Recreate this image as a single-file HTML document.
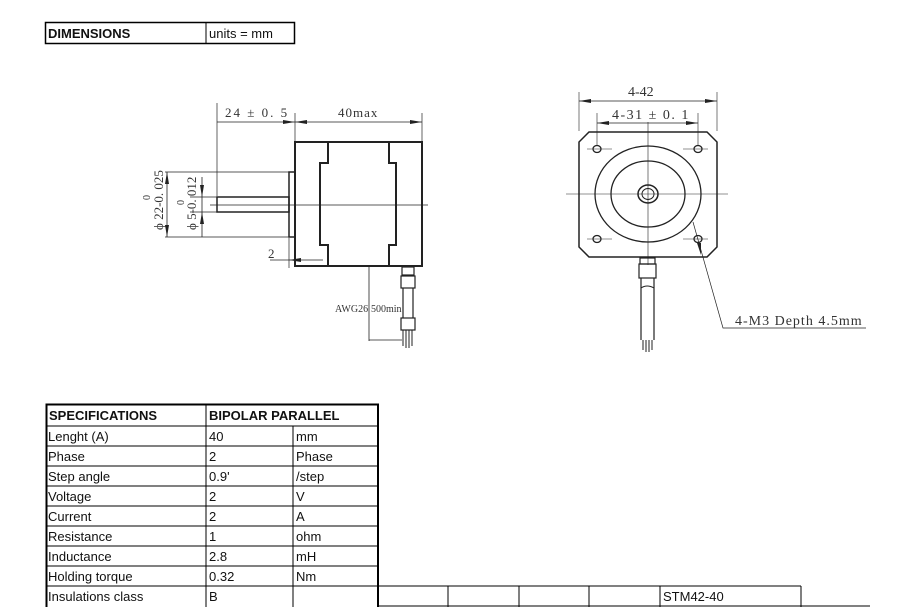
<!DOCTYPE html>
<html><head><meta charset="utf-8"><style>
body{margin:0;background:#fff;width:900px;height:607px;overflow:hidden;position:relative;font-family:"Liberation Sans",sans-serif}
svg{position:absolute;left:0;top:0}
.t{font-family:"Liberation Serif",serif;font-size:13px;fill:#333}
.c{font-family:"Liberation Sans",sans-serif;font-size:13px;fill:#111}
.b{font-weight:bold}
</style></head><body>
<svg width="900" height="607" viewBox="0 0 900 607">
<rect x="45.5" y="22.5" width="249" height="21" fill="none" stroke="#000" stroke-width="1.5"/>
<line x1="206" y1="22" x2="206" y2="44" stroke="#000"/>
<text x="48" y="38" class="c b">DIMENSIONS</text>
<text x="209" y="38" class="c">units = mm</text>

<g stroke="#222" fill="none">
<rect x="295" y="142" width="127" height="124" stroke-width="2"/>
<polyline points="328,142 328,163 320,163 320,245 328,245 328,266" stroke-width="2"/>
<polyline points="389,142 389,163 396,163 396,245 389,245 389,266" stroke-width="2"/>
<rect x="289" y="172" width="6" height="65" stroke-width="1.5"/>
<rect x="217" y="197" width="72" height="15" stroke-width="1.5"/>
<line x1="210" y1="205" x2="428" y2="205" stroke-width="0.7"/>
<line x1="217" y1="103" x2="217" y2="196" stroke-width="0.7"/>
<line x1="295" y1="113" x2="295" y2="141" stroke-width="0.7"/>
<line x1="422" y1="113" x2="422" y2="141" stroke-width="0.7"/>
<line x1="217" y1="122" x2="422" y2="122" stroke-width="0.8"/>
<line x1="165" y1="172" x2="289" y2="172" stroke-width="0.7"/>
<line x1="165" y1="237" x2="289" y2="237" stroke-width="0.7"/>
<line x1="190" y1="197" x2="217" y2="197" stroke-width="0.7"/>
<line x1="190" y1="212" x2="217" y2="212" stroke-width="0.7"/>
<line x1="167" y1="172" x2="167" y2="237" stroke-width="0.8"/>
<line x1="202" y1="177" x2="202" y2="237" stroke-width="0.8"/>
<line x1="289" y1="238" x2="289" y2="268" stroke-width="0.7"/>
<line x1="270" y1="260" x2="323" y2="260" stroke-width="0.8"/>
<line x1="369" y1="266" x2="369" y2="341" stroke-width="0.8"/>
<line x1="369" y1="340" x2="402" y2="340" stroke-width="0.7"/>
<rect x="402" y="267" width="12" height="8" stroke-width="1.2"/>
<rect x="401" y="276" width="14" height="12" stroke-width="1.2"/>
<line x1="403" y1="288" x2="403" y2="318" stroke-width="1.2"/>
<line x1="413" y1="288" x2="413" y2="318" stroke-width="1.2"/>
<rect x="401" y="318" width="14" height="12" stroke-width="1.2"/>
<line x1="403" y1="330" x2="403" y2="346"/><line x1="406" y1="330" x2="406" y2="348"/><line x1="409" y1="330" x2="409" y2="348"/><line x1="412" y1="330" x2="412" y2="346"/>
</g>
<g fill="#222">
<polygon points="295,122 283,120 283,124"/><polygon points="295,122 307,120 307,124"/>
<polygon points="422,122 410,120 410,124"/>
<polygon points="167,172 165,184 169,184"/><polygon points="167,237 165,225 169,225"/>
<polygon points="202,197 200,185 204,185"/><polygon points="202,212 200,224 204,224"/>
<polygon points="289,260 301,258 301,262"/>
</g>
<text x="225" y="117" class="t" letter-spacing="2">24 ± 0. 5</text>
<text x="338" y="117" class="t" letter-spacing="1">40max</text>
<text x="268" y="258" class="t">2</text>
<text x="335" y="312" class="t" style="font-size:10px">AWG26</text>
<text x="371" y="312" class="t" style="font-size:10px">500min</text>
<text transform="translate(163,230) rotate(-90)" class="t">ϕ 22-0. 025</text>
<text transform="translate(150,200) rotate(-90)" class="t" style="font-size:10px">0</text>
<text transform="translate(196,230) rotate(-90)" class="t">ϕ 5-0. 012</text>
<text transform="translate(184,205) rotate(-90)" class="t" style="font-size:10px">0</text>

<g stroke="#222" fill="none">
<polygon points="589,132 707,132 717,142 717,247 707,257 589,257 579,247 579,142" stroke-width="1.5"/>
<ellipse cx="648" cy="194" rx="53" ry="48" stroke-width="1.3"/>
<ellipse cx="648" cy="194" rx="37" ry="33" stroke-width="1.3"/>
<ellipse cx="648" cy="194" rx="10" ry="9" stroke-width="1.5"/>
<ellipse cx="648" cy="194" rx="6" ry="5.5" stroke-width="1"/>
<ellipse cx="597" cy="149" rx="4" ry="3.5" stroke-width="1.3"/>
<ellipse cx="698" cy="149" rx="4" ry="3.5" stroke-width="1.3"/>
<ellipse cx="597" cy="239" rx="4" ry="3.5" stroke-width="1.3"/>
<ellipse cx="698" cy="239" rx="4" ry="3.5" stroke-width="1.3"/>
<g stroke-width="0.6">
<line x1="566" y1="194" x2="728" y2="194"/><line x1="648" y1="122" x2="648" y2="265"/>
<line x1="587" y1="149" x2="612" y2="149"/><line x1="683" y1="149" x2="708" y2="149"/>
<line x1="587" y1="239" x2="612" y2="239"/><line x1="683" y1="239" x2="708" y2="239"/>
<line x1="579" y1="92" x2="579" y2="131"/><line x1="717" y1="92" x2="717" y2="131"/>
<line x1="597" y1="113" x2="597" y2="145"/><line x1="698" y1="113" x2="698" y2="145"/>
</g>
<line x1="579" y1="101" x2="717" y2="101" stroke-width="0.8"/>
<line x1="597" y1="123" x2="698" y2="123" stroke-width="0.8"/>
<polyline points="693,222 723,328 866,328" stroke-width="0.7"/>
<rect x="640" y="258" width="15" height="6" stroke-width="1.2"/>
<rect x="639" y="264" width="17" height="14" stroke-width="1.2"/>
<line x1="641" y1="278" x2="641" y2="340" stroke-width="1.2"/>
<line x1="654" y1="278" x2="654" y2="340" stroke-width="1.2"/>
<path d="M641,288 q6,-4 13,0" stroke-width="1"/>
<line x1="643" y1="340" x2="643" y2="350"/><line x1="646" y1="340" x2="646" y2="352"/><line x1="649" y1="340" x2="649" y2="352"/><line x1="652" y1="340" x2="652" y2="350"/>
</g>
<g fill="#222">
<polygon points="579,101 591,99 591,103"/><polygon points="717,101 705,99 705,103"/>
<polygon points="597,123 609,121 609,125"/><polygon points="698,123 686,121 686,125"/>
<polygon points="701,255 697,243 701,243"/>
</g>
<text x="628" y="96" class="t" style="font-size:14px">4-42</text>
<text x="612" y="119" class="t" letter-spacing="1.5" style="font-size:14px">4-31 ± 0. 1</text>
<text x="735" y="325" class="t" letter-spacing="1" style="font-size:14px">4-M3 Depth 4.5mm</text>

<g stroke="#000" fill="none">
<rect x="46.5" y="404.5" width="331.5" height="204" stroke-width="2"/>
<line x1="46" y1="426" x2="378" y2="426"/>
<line x1="46" y1="446" x2="378" y2="446"/>
<line x1="46" y1="466" x2="378" y2="466"/>
<line x1="46" y1="486" x2="378" y2="486"/>
<line x1="46" y1="506" x2="378" y2="506"/>
<line x1="46" y1="526" x2="378" y2="526"/>
<line x1="46" y1="546" x2="378" y2="546"/>
<line x1="46" y1="566" x2="378" y2="566"/>
<line x1="46" y1="586" x2="378" y2="586"/>
<line x1="206" y1="404" x2="206" y2="607"/>
<line x1="293" y1="426" x2="293" y2="607"/>
<line x1="378" y1="586" x2="801" y2="586"/>
<line x1="448" y1="586" x2="448" y2="607"/>
<line x1="519" y1="586" x2="519" y2="607"/>
<line x1="589" y1="586" x2="589" y2="607"/>
<line x1="660" y1="586" x2="660" y2="607"/>
<line x1="801" y1="586" x2="801" y2="607"/>
<line x1="378" y1="606" x2="870" y2="606"/>
</g>
<g class="c">
<text x="49" y="420" class="c b">SPECIFICATIONS</text><text x="209" y="420" class="c b">BIPOLAR PARALLEL</text>
<text x="48" y="441" class="c">Lenght (A)</text><text x="209" y="441" class="c">40</text><text x="296" y="441" class="c">mm</text>
<text x="48" y="461" class="c">Phase</text><text x="209" y="461" class="c">2</text><text x="296" y="461" class="c">Phase</text>
<text x="48" y="481" class="c">Step angle</text><text x="209" y="481" class="c">0.9'</text><text x="296" y="481" class="c">/step</text>
<text x="48" y="501" class="c">Voltage</text><text x="209" y="501" class="c">2</text><text x="296" y="501" class="c">V</text>
<text x="48" y="521" class="c">Current</text><text x="209" y="521" class="c">2</text><text x="296" y="521" class="c">A</text>
<text x="48" y="541" class="c">Resistance</text><text x="209" y="541" class="c">1</text><text x="296" y="541" class="c">ohm</text>
<text x="48" y="561" class="c">Inductance</text><text x="209" y="561" class="c">2.8</text><text x="296" y="561" class="c">mH</text>
<text x="48" y="581" class="c">Holding torque</text><text x="209" y="581" class="c">0.32</text><text x="296" y="581" class="c">Nm</text>
<text x="48" y="601" class="c">Insulations class</text><text x="209" y="601" class="c">B</text>
<text x="663" y="601" class="c">STM42-40</text>
</g>
</svg>
</body></html>
